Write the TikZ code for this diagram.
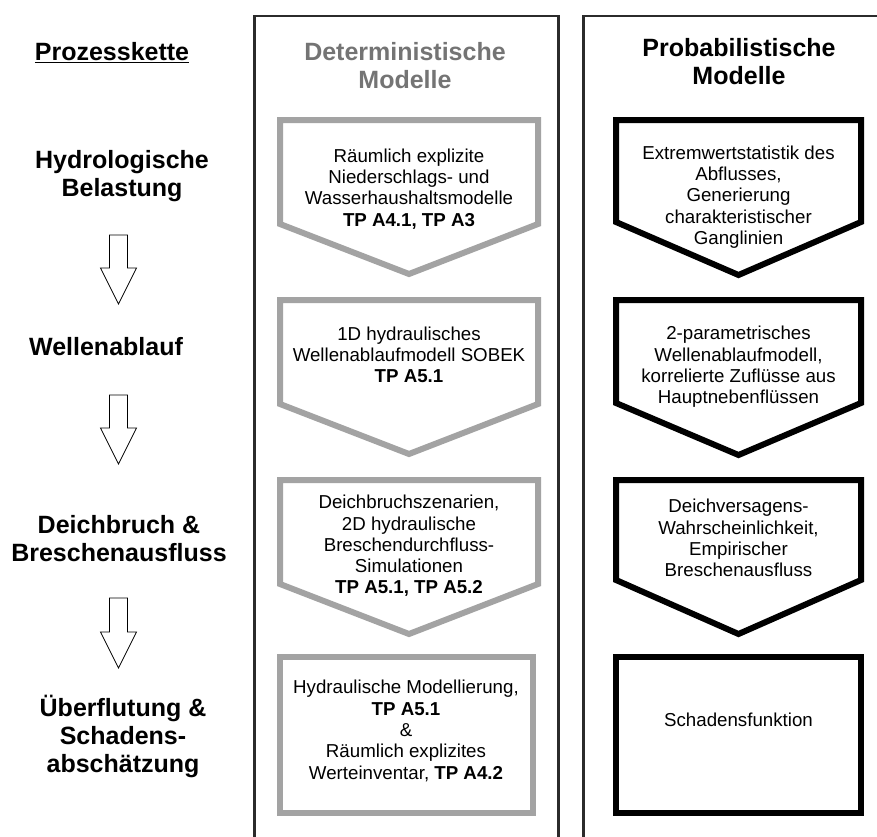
\documentclass[tikz,border=0pt]{standalone}
\usepackage{fontspec}
\setmainfont{Liberation Sans}
\definecolor{FrameDark}{HTML}{2b2b2b}
\definecolor{DetGray}{HTML}{a3a3a3}
\definecolor{DetText}{HTML}{747474}
\usetikzlibrary{positioning}

\begin{document}
\begin{tikzpicture}[
  x=1pt, y=-1pt,
  head/.style={font=\fontsize{25}{28}\selectfont\bfseries, align=center,
               inner sep=0pt},
  body/.style={font=\fontsize{18.7}{21.3}\selectfont, align=center,
               inner sep=0pt},
  frame/.style={draw=FrameDark, line width=2.5pt},
  det/.style={draw=DetGray, line width=6pt, fill=white},
  prob/.style={draw=black, line width=6pt, fill=white},
  hollow/.style={draw=black, line width=0.8pt, fill=white}
]
  \useasboundingbox (0,0) rectangle (877,836);

  % column frames (open at the bottom / right)
  \draw[frame] (254.7,850) -- (254.7,16) -- (558.7,16) -- (558.7,850);
  \draw[frame] (583.5,850) -- (583.5,16) -- (900,16);

  % headers
  \node[head] (chain) at (112,53) {\underline{Prozesskette}};
  \node[head, text=DetText] (dethead) at (405,66) {Deterministische\\Modelle};
  \node[head] (probhead) at (739,62) {Probabilistische\\Modelle};

  % stages of the process chain
  \node[head] (hydro) at (122,176) {Hydrologische\\Belastung};
  \node[head] (welle) at (106,347) {Wellenablauf};
  \node[head] (deich) at (119,539) {Deichbruch \&\\Breschenausfluss};
  \node[head] (flut)  at (123,736) {Überflutung \&\\Schadens-\\abschätzung};

  % hollow arrows between the stages
  \draw[hollow] (109.5,235) -- (127.5,235) -- (127.5,268) -- (136.5,268)
    -- (118.5,304) -- (100.5,268) -- (109.5,268) -- cycle;
  \draw[hollow] (109.5,395) -- (127.5,395) -- (127.5,428) -- (136.5,428)
    -- (118.5,464) -- (100.5,428) -- (109.5,428) -- cycle;
  \draw[hollow] (109.5,598) -- (127.5,598) -- (127.5,632) -- (136.5,632)
    -- (118.5,668) -- (100.5,632) -- (109.5,632) -- cycle;

  % deterministic models
  \draw[det] (280,120) -- (538,120) -- (538,224) -- (409,274) -- (280,224) -- cycle;
  \draw[det] (280,300) -- (538,300) -- (538,404) -- (409,454) -- (280,404) -- cycle;
  \draw[det] (280,480) -- (538,480) -- (538,584) -- (409,634) -- (280,584) -- cycle;
  \draw[det] (280,657) rectangle (532.5,812.5);

  \node[body] (det1) at (409,189) {Räumlich explizite\\Niederschlags- und\\
    Wasserhaushaltsmodelle\\\textbf{TP A4.1, TP A3}};
  \node[body] (det2) at (409,355) {1D hydraulisches\\
    Wellenablaufmodell SOBEK\\\textbf{TP A5.1}};
  \node[body] (det3) at (409,546) {Deichbruchszenarien,\\2D hydraulische\\
    Breschendurchfluss-\\Simulationen\\\textbf{TP A5.1, TP A5.2}};
  \node[body] (det4) at (406,731) {Hydraulische Modellierung,\\\textbf{TP A5.1}\\
    \&\\Räumlich explizites\\Werteinventar, \textbf{TP A4.2}};

  % probabilistic models
  \draw[prob] (616,120) -- (861,120) -- (861,222) -- (738.5,275) -- (616,222) -- cycle;
  \draw[prob] (616,300) -- (861,300) -- (861,403) -- (738.5,455) -- (616,403) -- cycle;
  \draw[prob] (616,480) -- (861,480) -- (861,580) -- (738.5,634) -- (616,580) -- cycle;
  \draw[prob] (616,657) rectangle (861,812.5);

  \node[body] (prob1) at (738.5,197) {Extremwertstatistik des\\Abflusses,\\
    Generierung\\charakteristischer\\Ganglinien};
  \node[body] (prob2) at (738.5,367) {2-parametrisches\\Wellenablaufmodell,\\
    korrelierte Zuflüsse aus\\Hauptnebenflüssen};
  \node[body] (prob3) at (738.5,538) {Deichversagens-\\Wahrscheinlichkeit,\\
    Empirischer\\Breschenausfluss};
  \node[body] (prob4) at (738.5,720) {Schadensfunktion};
\end{tikzpicture}
\end{document}
